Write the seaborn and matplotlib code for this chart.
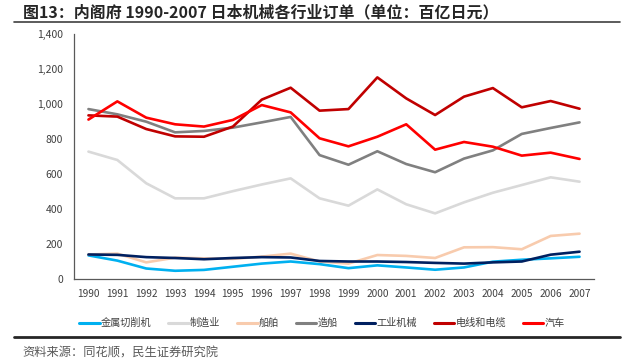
import numpy as np
import pandas as pd
import matplotlib
matplotlib.use("Agg")
import matplotlib.pyplot as plt
from matplotlib.ticker import FuncFormatter
from matplotlib.lines import Line2D
import seaborn as sns

years = list(range(1990, 2008))
metal_cutting = [135, 105, 60, 47, 52, 70, 88, 100, 85, 62, 78, 66, 53, 66, 99, 110, 118, 127]
manufacturing = [728, 680, 547, 461, 461, 502, 540, 575, 461, 419, 512, 427, 375, 438, 493, 537, 581, 556]
ships = [140, 145, 95, 122, 118, 115, 128, 145, 100, 88, 137, 132, 120, 181, 182, 170, 246, 259]
shipbuilding = [971, 941, 899, 838, 846, 865, 895, 926, 708, 653, 730, 657, 610, 688, 735, 829, 863, 895]
industrial = [140, 138, 125, 120, 113, 120, 125, 123, 103, 100, 100, 97, 92, 88, 95, 100, 139, 156]
wire_cable = [935, 928, 857, 815, 813, 871, 1025, 1093, 962, 971, 1152, 1032, 937, 1042, 1091, 981, 1017, 973]
autos = [911, 1015, 922, 884, 871, 909, 994, 952, 804, 758, 813, 884, 739, 783, 756, 705, 722, 686]

series_names = ["金属切削机", "制造业", "船舶", "造船", "工业机械", "电线和电缆", "汽车"]
series_values = [metal_cutting, manufacturing, ships, shipbuilding, industrial, wire_cable, autos]
colors = ["#00B0F0", "#D9D9D9", "#F8CBAD", "#808080", "#002060", "#C00000", "#FF0000"]

title = "图13：内阁府 1990-2007 日本机械各行业订单（单位：百亿日元）"
source = "资料来源：同花顺，民生证券研究院"

rows = []
for name, vals in zip(series_names, series_values):
    for y, v in zip(years, vals):
        rows.append({"year": y, "value": v, "series": name})
df = pd.DataFrame(rows)

sns.set_style("white")
plt.rcParams["font.family"] = ["Noto Sans CJK SC", "DejaVu Sans"]

W, H = 627, 364
fig = plt.figure(figsize=(W / 100, H / 100), dpi=100)
ax = fig.add_axes([74 / W, 1 - 279 / H, (594 - 74) / W, (279 - 34) / H])

palette = dict(zip(series_names, colors))
sns.lineplot(data=df, x="year", y="value", hue="series", hue_order=series_names,
             palette=palette, linewidth=1.9, ax=ax, legend=False, sort=True)

ax.set_xlim(years[0] - 0.5, years[-1] + 0.5)
ax.set_ylim(0, 1400)
ax.set_yticks(np.arange(0, 1401, 200))
ax.yaxis.set_major_formatter(FuncFormatter(lambda v, p: f"{int(v):,}"))
ax.set_xticks(years)
ax.set_xticklabels([str(y) for y in years])
ax.set_xticks(np.arange(years[0] - 0.5, years[-1] + 1.0, 1.0), minor=True)
ax.tick_params(axis="x", which="major", length=0, pad=7, labelsize=7.3, labelcolor="#404040")
ax.tick_params(axis="x", which="minor", direction="in", length=3, width=0.8, color="#595959")
ax.tick_params(axis="y", which="major", direction="inout", length=4, width=0.8, color="#595959",
               pad=6, labelsize=7.5, labelcolor="#404040")
ax.set_xlabel("")
ax.set_ylabel("")
for s in ["top", "right"]:
    ax.spines[s].set_visible(False)
for s in ["left", "bottom"]:
    ax.spines[s].set_color("#595959")
    ax.spines[s].set_linewidth(0.9)
ax.grid(False)

handles = [Line2D([0], [0], color=c, lw=2.2) for c in colors]
fig.legend(handles, series_names, loc="center", bbox_to_anchor=(322 / W, 1 - 323 / H),
           ncol=7, frameon=False, fontsize=7.3, handlelength=2.0, handletextpad=0.1,
           columnspacing=1.7, labelcolor="#404040")

fig.text(23 / W, 1 - 12 / H, title, fontsize=11.5, fontweight="bold", color="#262626",
         ha="left", va="center")
fig.add_artist(Line2D([14 / W, 620 / W], [1 - 21.5 / H, 1 - 21.5 / H], color="#404040", lw=1.2))
fig.add_artist(Line2D([14 / W, 620 / W], [1 - 337 / H, 1 - 337 / H], color="#262626", lw=2.0))
fig.text(22 / W, 1 - 353 / H, source, fontsize=8.8, color="#595959", ha="left", va="center")

fig.savefig("out.png", dpi=100)
